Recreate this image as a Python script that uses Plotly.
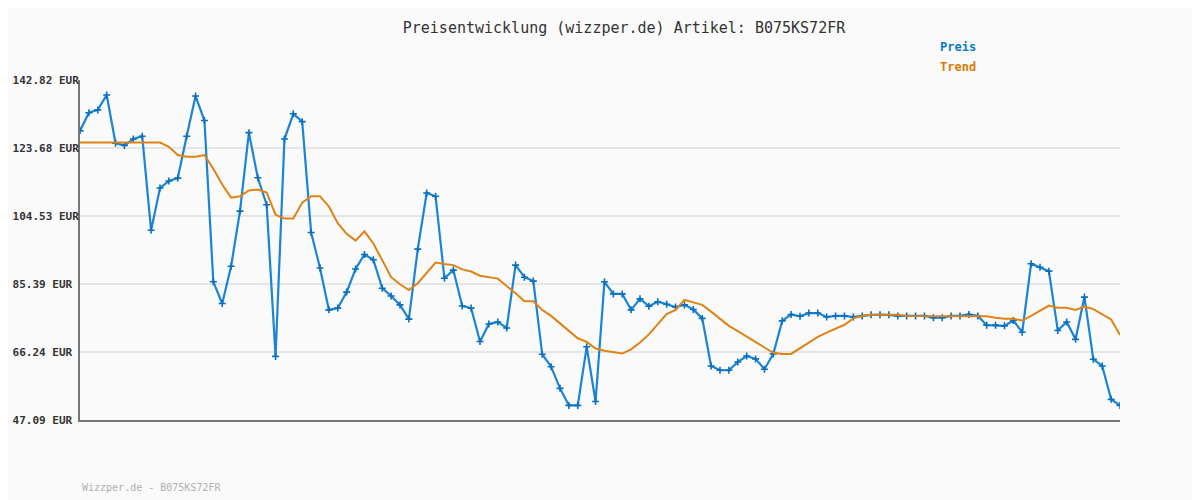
import plotly.graph_objects as go

title_text = "Preisentwicklung (wizzper.de) Artikel: B075KS72FR"
footer_text = "Wizzper.de - B075KS72FR"

tick_values = [47.09, 66.24, 85.39, 104.53, 123.68, 142.82]
tick_labels = ["47.09 EUR", "66.24 EUR", "85.39 EUR", "104.53 EUR", "123.68 EUR", "142.82 EUR"]

preis = [
    128.5, 133.6, 134.4, 138.6, 125.0, 124.4, 126.2, 127.0, 100.5, 112.4,
    114.4, 115.2, 127.0, 138.3, 131.4, 86.0, 79.9, 90.4, 105.9, 128.0,
    115.3, 107.7, 65.0, 126.2, 133.3, 131.1, 99.9, 89.9, 78.1, 78.6,
    83.1, 89.6, 93.7, 92.2, 84.2, 82.0, 79.5, 75.5, 95.2, 111.0,
    110.1, 87.0, 89.3, 79.2, 78.6, 69.2, 74.1, 74.7, 73.0, 90.7,
    87.3, 86.2, 65.6, 62.1, 56.0, 51.2, 51.2, 67.7, 52.3, 86.0,
    82.6, 82.6, 78.1, 81.2, 79.1, 80.4, 79.7, 78.9, 79.5, 78.2,
    75.7, 62.3, 61.1, 61.1, 63.4, 65.1, 64.3, 61.4, 65.7, 75.0,
    76.8, 76.3, 77.2, 77.2, 76.1, 76.4, 76.4, 76.1, 76.4, 76.7,
    76.7, 76.7, 76.4, 76.4, 76.4, 76.4, 75.9, 75.9, 76.4, 76.4,
    76.8, 76.4, 73.8, 73.8, 73.6, 75.1, 71.8, 91.1, 90.1, 89.0,
    72.3, 74.7, 69.8, 81.7, 64.2, 62.3, 52.9, 51.2,
]

trend = [
    125.2, 125.2, 125.2, 125.2, 125.2, 125.2, 125.2, 125.2, 125.2, 125.2,
    124.0, 121.7, 121.2, 121.2, 121.7, 117.8, 113.4, 109.7, 110.1, 111.7,
    112.0, 111.1, 104.9, 103.8, 103.8, 108.3, 110.1, 110.1, 107.2, 102.5,
    99.5, 97.6, 100.2, 96.8, 92.1, 87.3, 85.3, 83.7, 85.6, 88.4,
    91.4, 91.0, 90.7, 89.5, 88.9, 87.7, 87.2, 86.9, 84.8, 82.8,
    80.5, 80.5, 78.1, 76.4, 74.3, 72.1, 70.1, 69.1, 67.2, 66.6,
    66.2, 65.8, 67.0, 68.9, 71.2, 74.0, 76.9, 78.1, 80.9, 80.2,
    79.5, 77.6, 75.7, 73.6, 72.1, 70.5, 69.1, 67.5, 66.0, 65.7,
    65.7, 67.3, 69.0, 70.5, 71.7, 72.7, 73.9, 75.7, 76.4, 76.7,
    76.7, 76.7, 76.7, 76.4, 76.4, 76.4, 76.4, 76.4, 76.4, 76.4,
    76.4, 76.4, 76.3, 75.9, 75.6, 75.6, 75.1, 76.4, 77.8, 79.3,
    78.7, 78.7, 78.1, 79.0, 78.3, 76.9, 75.4, 71.0,
]

x = list(range(len(preis)))

BLUE = "#1c84d4"
BLUE_MARK = "#0b6fbf"
ORANGE = "#e08214"
BG = "#fafafa"

fig = go.Figure()
fig.add_trace(go.Scatter(
    x=x, y=preis, mode="lines+markers", name="Preis",
    line=dict(color=BLUE, width=2.2),
    marker=dict(symbol="cross-thin", size=5, line=dict(color=BLUE_MARK, width=1.6), color=BLUE_MARK),
    showlegend=False,
))
fig.add_trace(go.Scatter(
    x=x, y=trend, mode="lines", name="Trend",
    line=dict(color=ORANGE, width=2),
    showlegend=False,
))

pad = max(len(t) for t in tick_labels)
ticktext = [t + "\u00a0" * (pad - len(t)) for t in tick_labels]

# page body has an 8px margin: figure is sized/shifted so the plot area lands at 80..1120 x 80..420
fig.update_layout(
    width=1192, height=492,
    margin=dict(l=72, r=80, t=72, b=80, autoexpand=False),
    paper_bgcolor=BG, plot_bgcolor=BG,
    title=dict(text=title_text, x=(624 - 8) / 1192, xanchor="center", y=1 - (28 - 8) / 492, yanchor="middle",
               font=dict(family="DejaVu Sans Mono", size=15, color="#333333")),
    xaxis=dict(range=[0, len(preis) - 1], showgrid=False, zeroline=False, automargin=False,
               showticklabels=False, ticks="", showline=True, linecolor="#777777", linewidth=2),
    yaxis=dict(range=[tick_values[0], tick_values[-1]], tickvals=tick_values, ticktext=ticktext,
               showgrid=True, gridcolor="#e6e6e6", gridwidth=2, zeroline=False, automargin=False,
               showline=True, linecolor="#777777", linewidth=2, ticks="",
               ticklabelstandoff=-3,
               tickfont=dict(family="DejaVu Sans Mono", size=11, color="#333333", weight="bold")),
    annotations=[
        dict(text="Preis", xref="paper", yref="paper", x=(938 - 80) / 1040, y=(500 - 80 - 47) / 340,
             xanchor="left", yanchor="middle", showarrow=False,
             font=dict(family="DejaVu Sans Mono", size=12, color="#0a78c8", weight="bold")),
        dict(text="Trend", xref="paper", yref="paper", x=(938 - 80) / 1040, y=(500 - 80 - 67) / 340,
             xanchor="left", yanchor="middle", showarrow=False,
             font=dict(family="DejaVu Sans Mono", size=12, color="#dd7a00", weight="bold")),
        dict(text=footer_text, xref="paper", yref="paper", x=0, y=(500 - 80 - 487) / 340,
             xanchor="left", yanchor="middle", showarrow=False,
             font=dict(family="DejaVu Sans Mono", size=10, color="#b0b0b0")),
    ],
)

fig.write_html("out.html")
